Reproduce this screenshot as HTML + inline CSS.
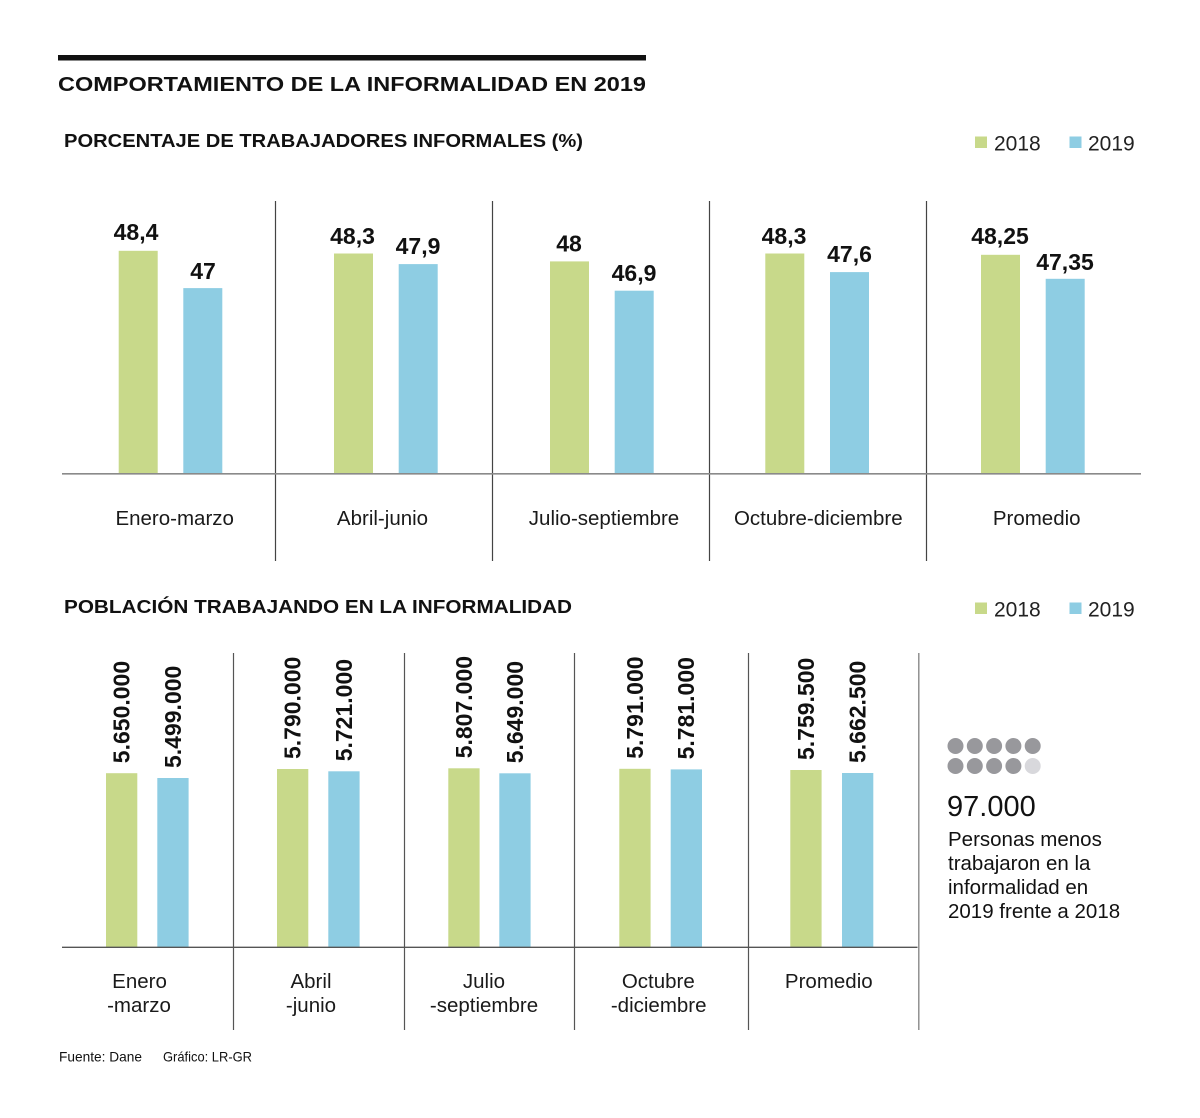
<!DOCTYPE html>
<html>
<head>
<meta charset="utf-8">
<style>
  html,body{margin:0;padding:0;background:#fff;}
  svg{display:block;}
  text{font-family:"Liberation Sans","DejaVu Sans",sans-serif;fill:#111;}
  .b{font-weight:bold;}
  .cat{font-size:20.5px;fill:#1a1a1a;}
  .val{font-size:23px;font-weight:bold;fill:#111;}
  .leg{font-size:21px;fill:#222;}
</style>
</head>
<body>
<svg width="1200" height="1118" viewBox="0 0 1200 1118" xmlns="http://www.w3.org/2000/svg">
  <rect width="1200" height="1118" fill="#fff"/>

  <!-- Header -->
  <rect x="58" y="55" width="588" height="5.5" fill="#111"/>
  <text x="58" y="91" class="b" font-size="20" textLength="588" lengthAdjust="spacingAndGlyphs">COMPORTAMIENTO DE LA INFORMALIDAD EN 2019</text>

  <!-- ========== TOP CHART ========== -->
  <text x="64" y="147" class="b" font-size="18.5" textLength="519" lengthAdjust="spacingAndGlyphs">PORCENTAJE DE TRABAJADORES INFORMALES (%)</text>

  <!-- legend -->
  <rect x="975" y="136.5" width="12" height="11.5" fill="#c8d98a"/>
  <text x="994" y="150.5" class="leg">2018</text>
  <rect x="1069.5" y="136.5" width="12" height="11.5" fill="#8ecde3"/>
  <text x="1088" y="150.5" class="leg">2019</text>

  <!-- separators -->
  <g stroke="#444" stroke-width="1.2">
    <line x1="275.5" y1="201" x2="275.5" y2="561"/>
    <line x1="492.5" y1="201" x2="492.5" y2="561"/>
    <line x1="709.5" y1="201" x2="709.5" y2="561"/>
    <line x1="926.5" y1="201" x2="926.5" y2="561"/>
  </g>

  <!-- bars -->
  <g>
    <rect x="118.7" y="250.8" width="39" height="222.7" fill="#c8d98a"/>
    <rect x="183.3" y="288.1" width="39" height="185.4" fill="#8ecde3"/>
    <rect x="334" y="253.5" width="39" height="220" fill="#c8d98a"/>
    <rect x="398.7" y="264.1" width="39" height="209.4" fill="#8ecde3"/>
    <rect x="550" y="261.4" width="39" height="212.1" fill="#c8d98a"/>
    <rect x="614.7" y="290.7" width="39" height="182.8" fill="#8ecde3"/>
    <rect x="765.3" y="253.5" width="39" height="220" fill="#c8d98a"/>
    <rect x="830" y="272.1" width="39" height="201.4" fill="#8ecde3"/>
    <rect x="981" y="254.8" width="39" height="218.7" fill="#c8d98a"/>
    <rect x="1045.7" y="278.8" width="39" height="194.7" fill="#8ecde3"/>
  </g>

  <!-- value labels -->
  <g class="val" text-anchor="middle">
    <text x="136" y="240" class="val">48,4</text>
    <text x="203" y="279" class="val">47</text>
    <text x="352.5" y="244" class="val">48,3</text>
    <text x="418" y="254" class="val">47,9</text>
    <text x="569" y="251.5" class="val">48</text>
    <text x="634" y="281" class="val">46,9</text>
    <text x="784" y="244" class="val">48,3</text>
    <text x="849.5" y="262" class="val">47,6</text>
    <text x="1000" y="244" class="val">48,25</text>
    <text x="1065" y="270" class="val">47,35</text>
  </g>

  <!-- baseline -->
  <line x1="62" y1="473.8" x2="1141" y2="473.8" stroke="#8a8a8a" stroke-width="1.6"/>

  <!-- category labels -->
  <g text-anchor="middle">
    <text x="174.7" y="525" class="cat">Enero-marzo</text>
    <text x="382.5" y="525" class="cat">Abril-junio</text>
    <text x="604" y="525" class="cat">Julio-septiembre</text>
    <text x="818.3" y="525" class="cat">Octubre-diciembre</text>
    <text x="1036.7" y="525" class="cat">Promedio</text>
  </g>

  <!-- ========== BOTTOM CHART ========== -->
  <text x="64" y="613" class="b" font-size="18.5" textLength="508" lengthAdjust="spacingAndGlyphs">POBLACIÓN TRABAJANDO EN LA INFORMALIDAD</text>

  <rect x="975" y="602.5" width="12" height="11.5" fill="#c8d98a"/>
  <text x="994" y="616.5" class="leg">2018</text>
  <rect x="1069.5" y="602.5" width="12" height="11.5" fill="#8ecde3"/>
  <text x="1088" y="616.5" class="leg">2019</text>

  <g stroke="#555" stroke-width="1.2">
    <line x1="233.5" y1="653" x2="233.5" y2="1030"/>
    <line x1="404.5" y1="653" x2="404.5" y2="1030"/>
    <line x1="574.5" y1="653" x2="574.5" y2="1030"/>
    <line x1="748.5" y1="653" x2="748.5" y2="1030"/>
  </g>
  <line x1="918.8" y1="653" x2="918.8" y2="1030" stroke="#888" stroke-width="1.4"/>

  <g>
    <rect x="106" y="773.2" width="31.3" height="173.8" fill="#c8d98a"/>
    <rect x="157.3" y="778" width="31.3" height="169" fill="#8ecde3"/>
    <rect x="277" y="769" width="31.3" height="178" fill="#c8d98a"/>
    <rect x="328.3" y="771.3" width="31.3" height="175.7" fill="#8ecde3"/>
    <rect x="448.3" y="768.3" width="31.3" height="178.7" fill="#c8d98a"/>
    <rect x="499.3" y="773.3" width="31.3" height="173.7" fill="#8ecde3"/>
    <rect x="619.3" y="768.8" width="31.3" height="178.2" fill="#c8d98a"/>
    <rect x="670.7" y="769.4" width="31.3" height="177.6" fill="#8ecde3"/>
    <rect x="790.3" y="770" width="31.3" height="177" fill="#c8d98a"/>
    <rect x="842" y="773" width="31.3" height="174" fill="#8ecde3"/>
  </g>

  <!-- rotated value labels -->
  <g>
    <text class="val" transform="translate(129.5,763.2) rotate(-90)">5.650.000</text>
    <text class="val" transform="translate(180.8,768) rotate(-90)">5.499.000</text>
    <text class="val" transform="translate(300.5,759) rotate(-90)">5.790.000</text>
    <text class="val" transform="translate(351.8,761.3) rotate(-90)">5.721.000</text>
    <text class="val" transform="translate(471.8,758.3) rotate(-90)">5.807.000</text>
    <text class="val" transform="translate(522.8,763.3) rotate(-90)">5.649.000</text>
    <text class="val" transform="translate(642.8,758.8) rotate(-90)">5.791.000</text>
    <text class="val" transform="translate(694.2,759.4) rotate(-90)">5.781.000</text>
    <text class="val" transform="translate(813.8,760) rotate(-90)">5.759.500</text>
    <text class="val" transform="translate(865.5,763) rotate(-90)">5.662.500</text>
  </g>

  <line x1="62" y1="947.3" x2="917.5" y2="947.3" stroke="#555" stroke-width="1.3"/>

  <g text-anchor="middle">
    <text x="139.5" y="988" class="cat">Enero</text>
    <text x="139" y="1012" class="cat">-marzo</text>
    <text x="311" y="988" class="cat">Abril</text>
    <text x="311" y="1012" class="cat">-junio</text>
    <text x="484" y="988" class="cat">Julio</text>
    <text x="484" y="1012" class="cat">-septiembre</text>
    <text x="658.3" y="988" class="cat">Octubre</text>
    <text x="658.7" y="1012" class="cat">-diciembre</text>
    <text x="828.8" y="988" class="cat">Promedio</text>
  </g>

  <!-- side panel -->
  <g fill="#98989c">
    <circle cx="955.5" cy="746" r="8"/>
    <circle cx="974.8" cy="746" r="8"/>
    <circle cx="994.1" cy="746" r="8"/>
    <circle cx="1013.4" cy="746" r="8"/>
    <circle cx="1032.7" cy="746" r="8"/>
    <circle cx="955.5" cy="766" r="8"/>
    <circle cx="974.8" cy="766" r="8"/>
    <circle cx="994.1" cy="766" r="8"/>
    <circle cx="1013.4" cy="766" r="8"/>
  </g>
  <circle cx="1032.7" cy="766" r="8" fill="#d8d8dc"/>

  <text x="947" y="816" font-size="29" fill="#1a1a1a">97.000</text>
  <g font-size="20.5" fill="#1a1a1a">
    <text x="948" y="846">Personas menos</text>
    <text x="948" y="870">trabajaron en la</text>
    <text x="948" y="894">informalidad en</text>
    <text x="948" y="918">2019 frente a 2018</text>
  </g>

  <!-- footer -->
  <text x="59" y="1061.5" font-size="14" textLength="83" lengthAdjust="spacingAndGlyphs" fill="#222">Fuente: Dane</text>
  <text x="163" y="1061.5" font-size="14" textLength="89" lengthAdjust="spacingAndGlyphs" fill="#222">Gráfico: LR-GR</text>
</svg>
</body>
</html>
